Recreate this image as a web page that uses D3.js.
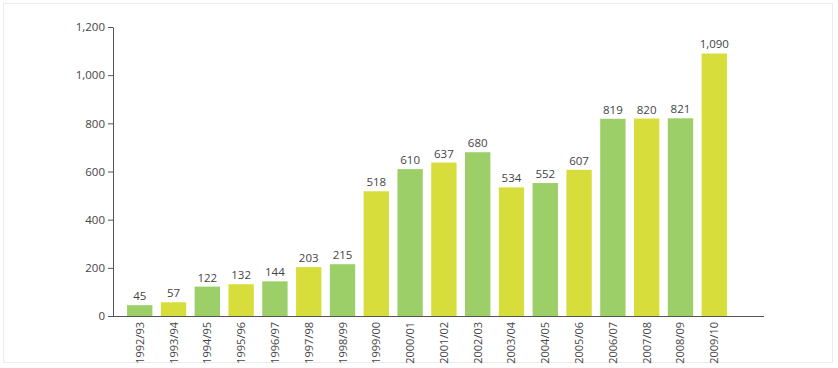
<!DOCTYPE html>
<html>
<head>
<meta charset="utf-8">
<script src="https://cdn.jsdelivr.net/npm/d3@7"></script>
<style>
  body { margin: 0; background: #fff; }
</style>
</head>
<body>
<div id="wrapper"></div>
<script>
// Data
const years = ["1992/93", "1993/94", "1994/95", "1995/96", "1996/97", "1997/98",
  "1998/99", "1999/00", "2000/01", "2001/02", "2002/03", "2003/04", "2004/05",
  "2005/06", "2006/07", "2007/08", "2008/09", "2009/10"]
const counts = [45, 57, 122, 132, 144, 203, 215, 518, 610, 637, 680, 534, 552,
  607, 819, 820, 821, 1090]
const yTicks = [0, 200, 400, 600, 800, 1000, 1200]
const barColors = ["#9dcf68", "#d7de3c"]

function drawChart() {
  const dimensions = {
    width: 838,
    height: 368,
    margin: { top: 27, left: 113, bottom: 52 }
  }
  const axisEnd = 764
  const bandStart = 123
  const bandEnd = 731
  const baseline = dimensions.height - dimensions.margin.bottom

  const svg = d3.select("#wrapper")
    .append("svg")
    .attr("width", dimensions.width)
    .attr("height", dimensions.height)
    .style("font-family", "'Open Sans', 'Noto Sans', sans-serif")

  // faint frame
  svg.append("rect")
    .attr("x", 3.5).attr("y", 3.5)
    .attr("width", 829).attr("height", 359)
    .attr("fill", "none")
    .attr("stroke", "#ececec")

  const xScale = d3.scaleBand()
    .domain(years)
    .range([bandStart, bandEnd])
    .paddingInner(0.25)
    .paddingOuter(0.12)

  const yScale = d3.scaleLinear()
    .domain([0, 1200])
    .range([baseline, dimensions.margin.top])

  // bars
  svg.append("g")
    .selectAll("rect")
    .data(counts)
    .join("rect")
      .attr("x", (d, i) => xScale(years[i]))
      .attr("y", d => yScale(d))
      .attr("width", xScale.bandwidth())
      .attr("height", d => baseline - yScale(d))
      .attr("fill", (d, i) => barColors[i % 2])

  // value labels
  svg.append("g")
    .selectAll("text")
    .data(counts)
    .join("text")
      .attr("x", (d, i) => xScale(years[i]) + xScale.bandwidth() / 2)
      .attr("y", d => yScale(d) - 5)
      .attr("text-anchor", "middle")
      .attr("fill", "#444")
      .style("font-size", "11.5px")
      .text(d => d3.format(",")(d))

  // y axis
  const yAxis = svg.append("g")
    .attr("transform", `translate(${dimensions.margin.left},0)`)
    .call(d3.axisLeft(yScale)
      .tickValues(yTicks)
      .tickFormat(d3.format(","))
      .tickSize(5)
      .tickSizeOuter(0))
  yAxis.select(".domain").attr("stroke", "#555")
  yAxis.selectAll(".tick line").attr("stroke", "#555")
  yAxis.selectAll(".tick text")
    .attr("fill", "#444")
    .attr("x", -8)
    .style("font-size", "11.5px")
    .style("font-family", "'Open Sans', 'Noto Sans', sans-serif")

  // x axis line
  svg.append("line")
    .attr("x1", dimensions.margin.left)
    .attr("x2", axisEnd)
    .attr("y1", baseline + 0.5)
    .attr("y2", baseline + 0.5)
    .attr("stroke", "#555")

  // x labels (rotated)
  svg.append("g")
    .selectAll("text")
    .data(years)
    .join("text")
      .attr("transform", d =>
        `translate(${xScale(d) + xScale.bandwidth() / 2 + 4},${baseline + 6}) rotate(-90)`)
      .attr("text-anchor", "end")
      .attr("fill", "#444")
      .style("font-size", "11px")
      .text(d => d)
}

drawChart()
</script>
</body>
</html>
